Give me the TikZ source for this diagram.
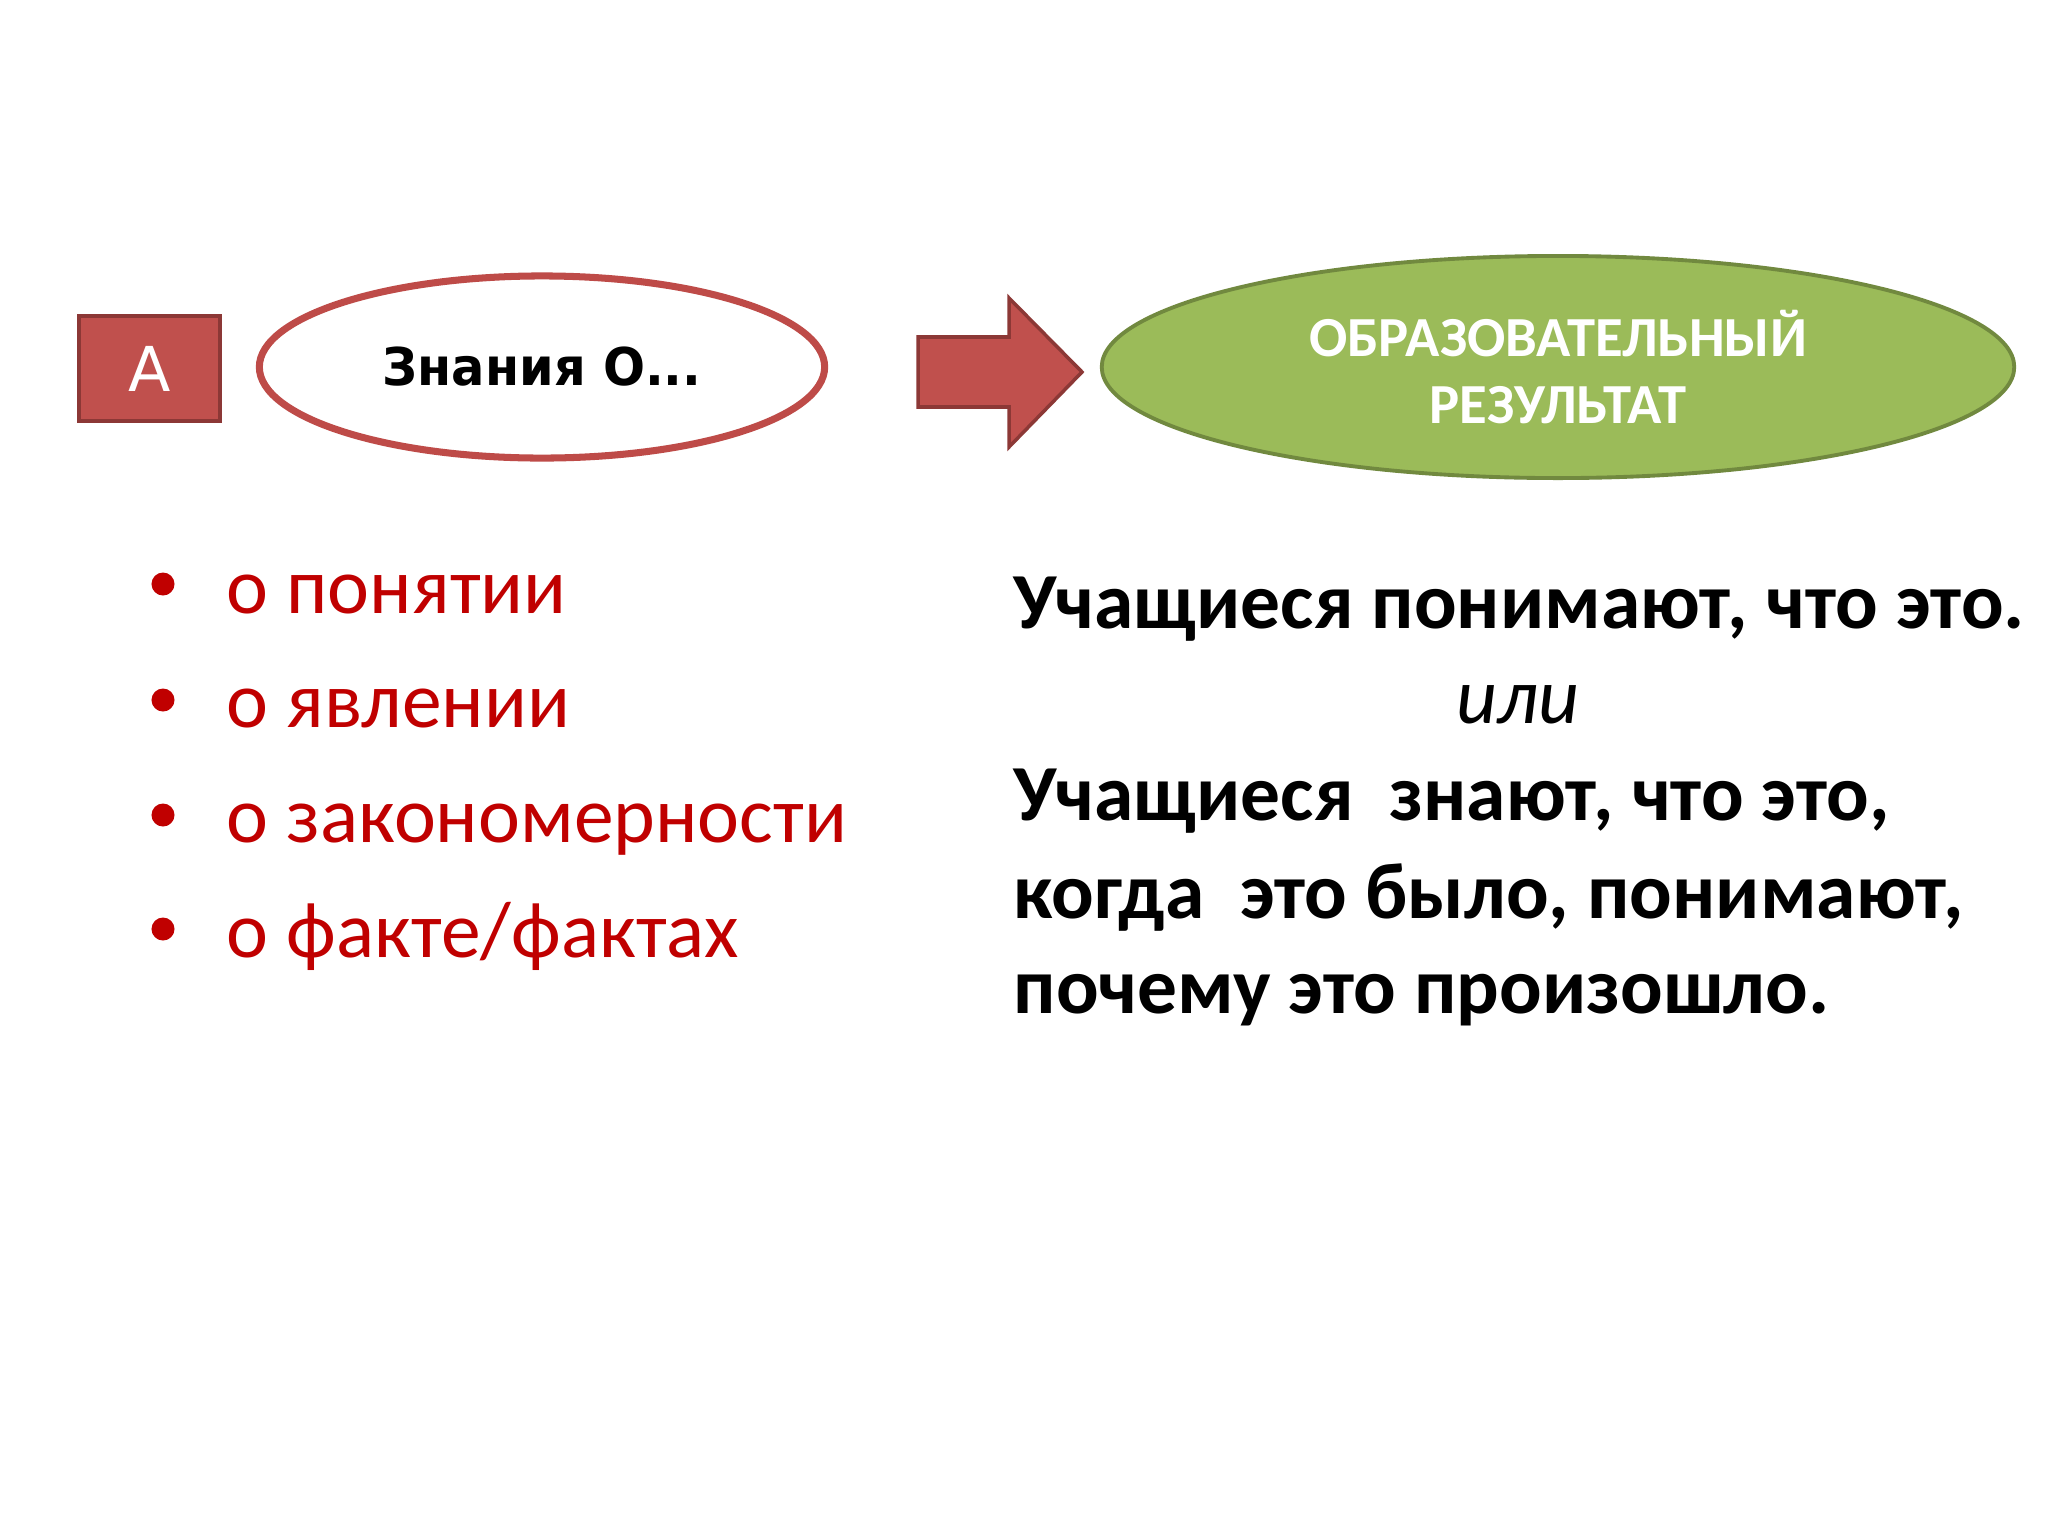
\documentclass[tikz,border=0pt]{standalone}
\usepackage{fontspec}
\setmainfont{Carlito}
\newfontfamily\dvfont{DejaVu Sans}
\usetikzlibrary{shapes.geometric}
\definecolor{boxred}{HTML}{C0504D}
\definecolor{boxredd}{HTML}{8C3836}
\definecolor{ringred}{HTML}{BE4B48}
\definecolor{leafgreen}{HTML}{9BBB59}
\definecolor{leafgreend}{HTML}{71893F}
\definecolor{txtred}{HTML}{C00000}
\tikzset{
  letterbox/.style={draw=boxredd, fill=boxred, line width=1.2pt, inner sep=0pt,
    minimum width=1.41cm, minimum height=1.05cm, text=white},
  topicoval/.style={ellipse, draw=ringred, line width=2pt, fill=white, inner sep=0pt,
    minimum width=5.65cm, minimum height=1.82cm},
  resultoval/.style={ellipse, draw=leafgreend, line width=1.1pt, fill=leafgreen, inner sep=0pt,
    minimum width=9.12cm, minimum height=2.22cm, text=white, align=center,
    font=\bfseries\fontsize{16.1}{19}\selectfont},
  bulletdot/.style={circle, fill=txtred, inner sep=0pt, minimum size=0.23cm},
  bullettext/.style={anchor=base west, inner sep=0pt, text=txtred, font=\fontsize{22.6}{26}\selectfont},
  bodytext/.style={anchor=base west, inner sep=0pt, font=\bfseries\fontsize{22.6}{26}\selectfont},
  blockarrow/.style={fill=boxred, draw=boxredd, line width=1pt, line join=miter}
}
\begin{document}
\begin{tikzpicture}[x=0.01cm,y=-0.01cm]
\useasboundingbox (0,0) rectangle (2048,1536);
\fill[white] (0,0) rectangle (2048,1536);

\node[letterbox] (lettera) at (149.5,368.5) {\dvfont\fontsize{17.6}{20}\selectfont A};
\node[topicoval] (topic) at (542,367) {\scalebox{0.95}[1]{\dvfont\bfseries\fontsize{14.8}{18}\selectfont Знания О...}};

\filldraw[blockarrow] (918,337) -- (1009,337) -- (1009,298) -- (1082,372) -- (1009,447) -- (1009,407) -- (918,407) -- cycle;

\node[resultoval] (result) at (1558,367) {ОБРАЗОВАТЕЛЬНЫЙ\\РЕЗУЛЬТАТ};

\node[bulletdot] (b1) at (163,584) {};
\node[bulletdot] (b2) at (163,700) {};
\node[bulletdot] (b3) at (163,815) {};
\node[bulletdot] (b4) at (163,929) {};
\node[bullettext] (t1) at (226,613) {о понятии};
\node[bullettext] (t2) at (226,727) {о явлении};
\node[bullettext] (t3) at (226,842) {о закономерности};
\node[bullettext] (t4) at (226,957) {о факте/фактах};

\node[bodytext] (r1) at (1013,628) {Учащиеся понимают, что это.};
\node[anchor=base, inner sep=0pt, font=\itshape\fontsize{22.6}{26}\selectfont] (ili) at (1518,723) {или};
\node[bodytext] (r2) at (1013,820) {Учащиеся\ \ знают, что это,};
\node[bodytext] (r3) at (1013,918) {когда\ \ это было, понимают,};
\node[bodytext] (r4) at (1013,1013) {почему это произошло.};
\end{tikzpicture}
\end{document}
